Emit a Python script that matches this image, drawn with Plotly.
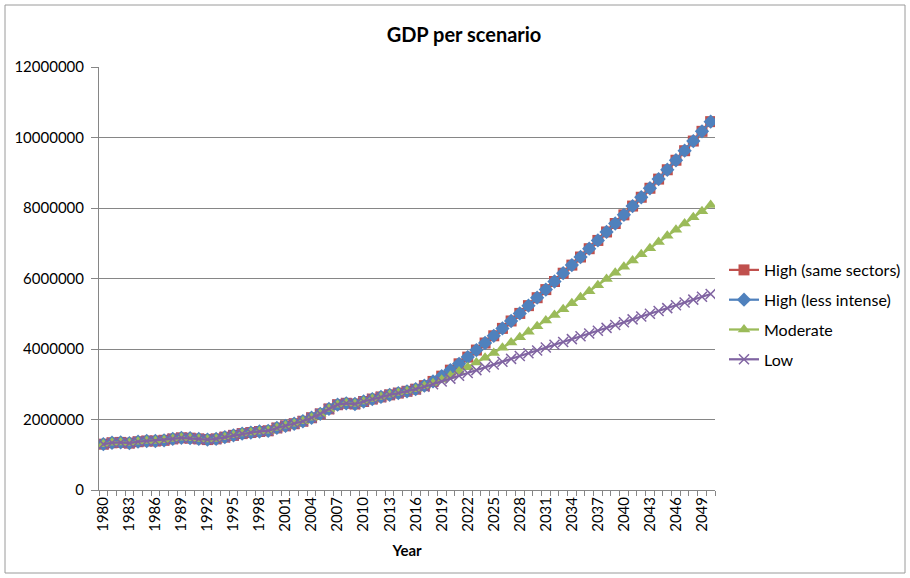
import plotly.graph_objects as go

# Years on the category axis
years = list(range(1980, 2051))

# Observed GDP 1980-2016 (shared by every scenario)
history = [
    1300000, 1340000, 1350000, 1330000, 1370000, 1390000, 1390000, 1410000,
    1450000, 1480000, 1470000, 1450000, 1430000, 1450000, 1500000, 1550000,
    1600000, 1630000, 1660000, 1680000, 1760000, 1820000, 1880000, 1950000,
    2050000, 2160000, 2300000, 2420000, 2460000, 2440000, 2510000, 2580000,
    2640000, 2700000, 2750000, 2800000, 2860000,
]

# Projections 2017-2050 per scenario
high_same_proj = [
    2960000, 3080000, 3230000, 3400000, 3580000, 3770000, 3970000, 4170000,
    4375000, 4585000, 4795000, 5010000, 5230000, 5455000, 5685000, 5915000,
    6150000, 6380000, 6610000, 6845000, 7080000, 7320000, 7560000, 7805000,
    8055000, 8305000, 8560000, 8820000, 9085000, 9355000, 9625000, 9900000,
    10175000, 10450000,
]
high_less_proj = [
    2960000, 3080000, 3230000, 3400000, 3580000, 3770000, 3970000, 4170000,
    4375000, 4585000, 4795000, 5010000, 5230000, 5455000, 5685000, 5915000,
    6150000, 6380000, 6610000, 6845000, 7080000, 7320000, 7560000, 7805000,
    8055000, 8305000, 8560000, 8820000, 9085000, 9355000, 9625000, 9900000,
    10175000, 10450000,
]
moderate_proj = [
    2940000, 3030000, 3130000, 3240000, 3360000, 3485000, 3615000, 3750000,
    3890000, 4035000, 4185000, 4335000, 4490000, 4645000, 4805000, 4965000,
    5130000, 5295000, 5465000, 5635000, 5810000, 5985000, 6160000, 6335000,
    6510000, 6685000, 6860000, 7035000, 7210000, 7385000, 7560000, 7735000,
    7910000, 8085000,
]
low_proj = [
    2930000, 3000000, 3080000, 3160000, 3240000, 3320000, 3400000, 3480000,
    3560000, 3640000, 3720000, 3800000, 3880000, 3960000, 4040000, 4120000,
    4200000, 4280000, 4360000, 4440000, 4520000, 4600000, 4680000, 4760000,
    4840000, 4920000, 5000000, 5080000, 5160000, 5240000, 5320000, 5400000,
    5480000, 5560000,
]

series_names = ["High (same sectors)", "High (less intense)", "Moderate", "Low"]
series_proj = [high_same_proj, high_less_proj, moderate_proj, low_proj]

tick_years = list(range(1980, 2050, 3))
y_ticks = [0, 2000000, 4000000, 6000000, 8000000, 10000000, 12000000]

FONT = "Lato, Carlito, Calibri, sans-serif"

styles = [
    dict(color="#C0504D", symbol="square", size=11, lw=0),
    dict(color="#4F81BD", symbol="diamond", size=11, lw=0),
    dict(color="#9BBB59", symbol="triangle-up", size=11, lw=0),
    dict(color="#8064A2", symbol="x-thin", size=10, lw=1.5),
]

fig = go.Figure()
for name, proj, st in zip(series_names, series_proj, styles):
    fig.add_trace(go.Scatter(
        x=years,
        y=history + proj,
        name=name,
        legendgroup=name,
        mode="lines+markers",
        line=dict(color=st["color"], width=2.25),
        marker=dict(symbol=st["symbol"], size=st["size"], color=st["color"],
                    line=dict(color=st["color"], width=st["lw"])),
    ))

W, H = 910, 578
L, R, T, B = 99, 195, 67, 88
pw, ph = W - L - R, H - T - B

def px_x(px):
    return (px - L) / pw

def px_y(py):
    return (H - B - py) / ph

fig.update_layout(
    width=W, height=H,
    margin=dict(l=L, r=R, t=T, b=B, autoexpand=False),
    paper_bgcolor="white",
    plot_bgcolor="white",
    font=dict(family=FONT, size=15, color="#000000"),
    title=dict(text="<b>GDP per scenario</b>", x=464 / W, xanchor="center",
               y=1 - 35 / H, yanchor="middle",
               font=dict(family=FONT, size=20, color="#000000")),
    showlegend=True,
    legend=dict(x=px_x(724), xanchor="left", y=px_y(253), yanchor="top",
                traceorder="grouped", tracegroupgap=6,
                font=dict(family=FONT, size=16, color="#000000"),
                bgcolor="rgba(0,0,0,0)", itemwidth=30),
    xaxis=dict(
        range=[1979.5, 2050.5],
        tickmode="array", tickvals=tick_years, ticktext=[str(y) for y in tick_years],
        tickangle=-90, ticks="", showgrid=False, zeroline=False,
        showline=True, linecolor="#868686", linewidth=1,
        tickfont=dict(family=FONT, size=15, color="#000000"),
        minor=dict(tickmode="linear", tick0=1979.5, dtick=1, ticks="outside",
                   ticklen=5, tickcolor="#868686", showgrid=False),
        title=dict(text="<b>Year</b>", font=dict(family=FONT, size=15, color="#000000"),
                   standoff=14),
    ),
    yaxis=dict(
        range=[0, 12000000],
        tickmode="array", tickvals=y_ticks, ticktext=[str(v) for v in y_ticks],
        ticks="outside", ticklen=7, tickcolor="#868686", ticklabelstandoff=4,
        showgrid=True, gridcolor="#868686", gridwidth=1, zeroline=False,
        showline=True, linecolor="#868686", linewidth=1,
        tickfont=dict(family=FONT, size=15, color="#000000"),
    ),
    shapes=[dict(type="rect", xref="paper", yref="paper",
                 x0=px_x(5), x1=px_x(905), y0=px_y(573), y1=px_y(5),
                 line=dict(color="#9A9A9A", width=1), fillcolor="rgba(0,0,0,0)",
                 layer="below")],
)

fig.write_html("out.html")
